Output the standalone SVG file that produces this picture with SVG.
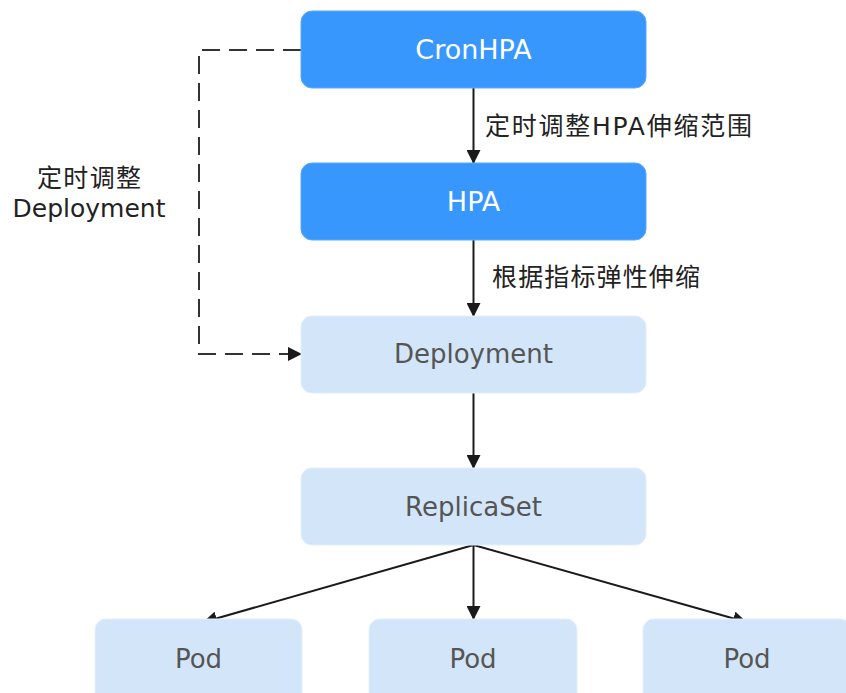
<svg xmlns="http://www.w3.org/2000/svg" width="846" height="693" viewBox="0 0 846 693">
<style>
.dark rect{fill:#3797fc;stroke:#5aa9fd;stroke-width:1}
.light rect{fill:#d3e6f9;stroke:#e2eefb;stroke-width:1}
.dark text{fill:#ffffff;font-family:"DejaVu Sans","Noto Sans",sans-serif;font-size:27px;text-anchor:middle}
.light text{fill:#555555;font-family:"DejaVu Sans","Noto Sans",sans-serif;font-size:26px;text-anchor:middle}
.lbl{fill:#222222;font-family:"DejaVu Sans","Noto Sans CJK SC",sans-serif;font-size:25px}
.edge{stroke:#1a1a1a;stroke-width:2;fill:none}
.dash{stroke:#333333;stroke-width:2;fill:none;stroke-dasharray:18 9}
</style>
<defs>
<marker id="ah" markerWidth="14" markerHeight="14" viewBox="0 0 14 14" refX="13" refY="7" orient="auto" markerUnits="userSpaceOnUse">
<path d="M0,0 L14,7 L0,14 Z" fill="#1a1a1a"/>
</marker>
</defs>
<rect width="846" height="693" fill="#ffffff"/>
<g id="connectors">
<line class="edge" x1="473.5" y1="88" x2="473.5" y2="163" marker-end="url(#ah)"/>
<line class="edge" x1="473.5" y1="240" x2="473.5" y2="316" marker-end="url(#ah)"/>
<line class="edge" x1="473.5" y1="393" x2="473.5" y2="468" marker-end="url(#ah)"/>
<line class="edge" x1="473.5" y1="545" x2="473.5" y2="619" marker-end="url(#ah)"/>
<line class="edge" x1="473.5" y1="545" x2="204" y2="622" marker-end="url(#ah)"/>
<line class="edge" x1="473.5" y1="545" x2="746" y2="622" marker-end="url(#ah)"/>
<path class="dash" d="M301,50 H199 V354 H288"/>
<line class="edge" x1="288" y1="354" x2="301" y2="354" marker-end="url(#ah)"/>
<text class="lbl" x="485" y="135" textLength="267">定时调整HPA伸缩范围</text>
<text class="lbl" x="492" y="286" textLength="208">根据指标弹性伸缩</text>
<text class="lbl" x="89" y="187" text-anchor="middle" textLength="104">定时调整</text>
<text class="lbl" x="89" y="217" text-anchor="middle" font-size="25.8">Deployment</text>
</g>
<g id="cronhpa" class="dark">
<rect x="301" y="11" width="345" height="77" rx="11"/>
<text x="473.5" y="59" font-size="28">CronHPA</text>
</g>
<g id="hpa" class="dark">
<rect x="301" y="163" width="345" height="77" rx="11"/>
<text x="473.5" y="211" font-size="29">HPA</text>
</g>
<g id="deployment" class="light">
<rect x="301" y="316" width="345" height="77" rx="11"/>
<text x="473.5" y="363" font-size="25.7">Deployment</text>
</g>
<g id="replicaset" class="light">
<rect x="301" y="468" width="345" height="77" rx="11"/>
<text x="473.5" y="516" font-size="26.8">ReplicaSet</text>
</g>
<g id="pod1" class="light">
<rect x="95" y="619" width="207" height="85" rx="11"/>
<text x="198.5" y="668" font-size="28">Pod</text>
</g>
<g id="pod2" class="light">
<rect x="369" y="619" width="208" height="85" rx="11"/>
<text x="473" y="668" font-size="28">Pod</text>
</g>
<g id="pod3" class="light">
<rect x="643" y="619" width="208" height="85" rx="11"/>
<text x="747" y="668" font-size="28">Pod</text>
</g>
</svg>
